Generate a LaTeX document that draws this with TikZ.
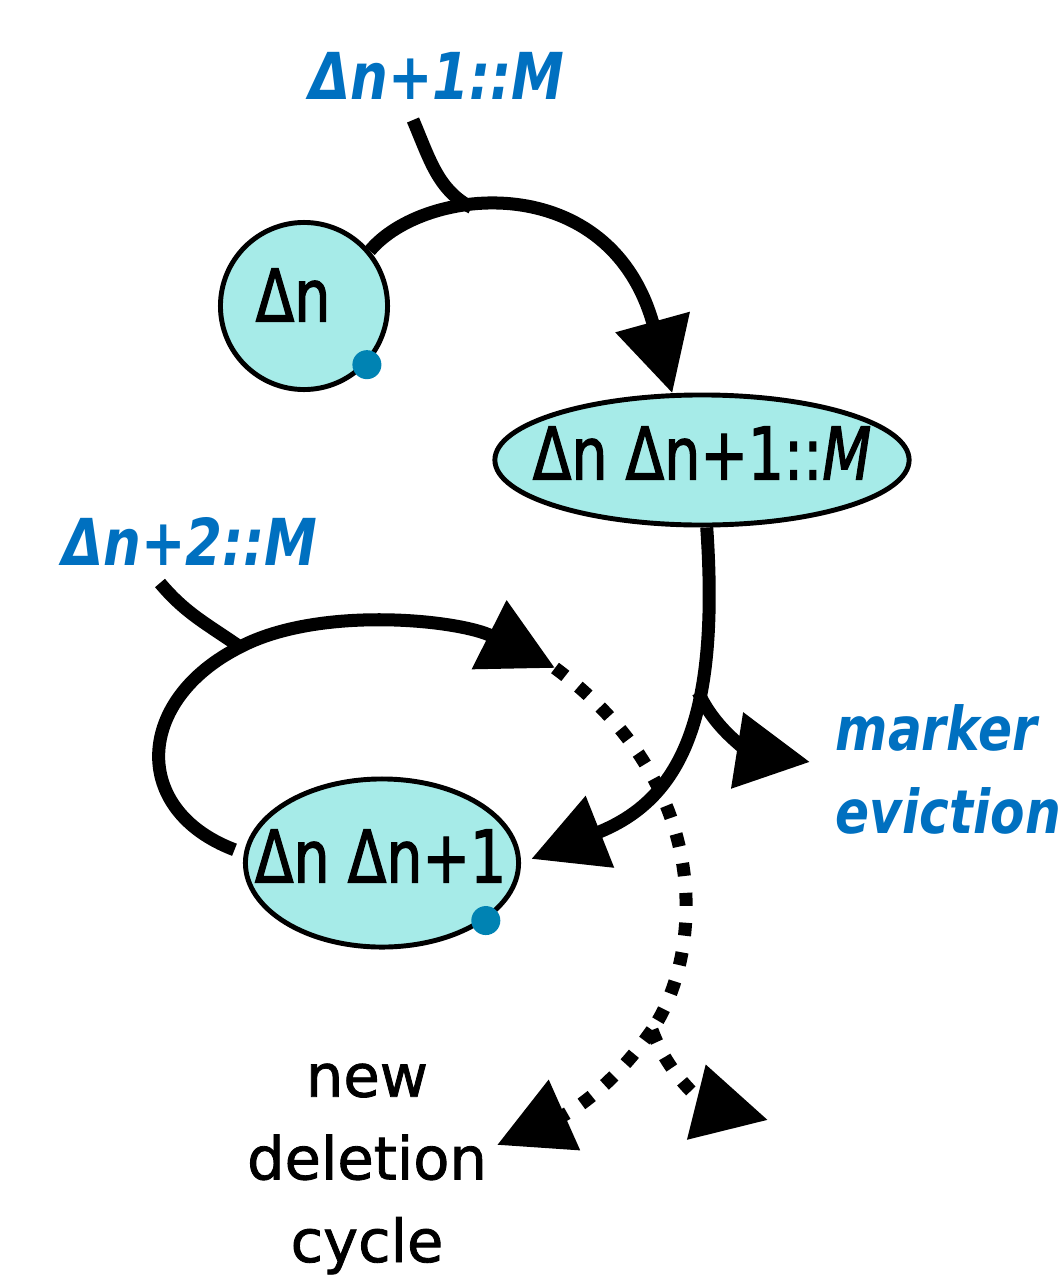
\documentclass[tikz,border=0pt]{standalone}
\usepackage{fontspec}
\setmainfont{DejaVu Sans}[FakeBold=1.4]
\newfontfamily\narrowfont{DejaVu Sans}[FakeStretch=0.78,FakeBold=1.6]
\newfontfamily\bluefont{DejaVu Sans}[FakeStretch=0.82]
\newfontfamily\evfont{DejaVu Sans}[FakeStretch=0.83]
\usepackage{tikz}
\usetikzlibrary{arrows.meta,shapes.geometric}
\definecolor{cellfill}{HTML}{A6EBE8}
\definecolor{markblue}{HTML}{0070C0}
\definecolor{dotblue}{HTML}{0083B3}

\begin{document}
\begin{tikzpicture}[x=0.01cm,y=-0.01cm,>={Triangle[length=21pt,width=21pt]},
        cellnode/.style={draw,fill=cellfill,line width=1.4pt,inner sep=0pt},
        celltext/.style={font=\narrowfont\fontsize{20.7}{24}\selectfont},
        bluelbl/.style={font=\bluefont\bfseries\itshape\fontsize{18.4}{22}\selectfont,text=markblue,inner sep=0pt},
        evtext/.style={font=\evfont\bfseries\itshape\fontsize{17.2}{23.6}\selectfont,text=markblue,inner sep=0pt,align=left},
        flow/.style={line width=3.7pt,->},
        feed/.style={line width=3.7pt},
        dotflow/.style={line width=3.7pt,dash pattern=on 3.7pt off 4.8pt},
        dotmark/.style={circle,fill=dotblue,inner sep=0pt,minimum size=0.29cm}]
        \useasboundingbox (0,0) rectangle (1057,1276);
        % sets
        \node[cellnode,circle,minimum size=1.67cm,
              label={[celltext,xshift=-0.11cm,yshift=0.11cm]center:Δn}] (dn) at (304,306) {};
        \node[cellnode,ellipse,minimum width=4.14cm,minimum height=1.30cm,
              label={[celltext,yshift=0.07cm]center:Δn Δn+1::\textit{M}}] (e1) at (702,460) {};
        \node[cellnode,ellipse,minimum width=2.73cm,minimum height=1.68cm,
              label={[celltext,xshift=-0.015cm,yshift=0.07cm]center:Δn Δn+1}] (e2) at (382,863) {};
        \node[dotmark] (dnpin) at (dn.-43) {};
        \node[dotmark] (e2pin) at (e2.-29) {};
        % labels
        \node[bluelbl,anchor=base] (lblone) at (437,100) {Δn+1::M};
        \node[bluelbl,anchor=base] (lbltwo) at (190,565) {Δn+2::M};
        \node[evtext,anchor=base west] (evlbl) at (835,833) {marker\\eviction};
        \node[font=\fontsize{16.8}{23.5}\selectfont,align=center,anchor=base] (cyclbl) at (367,1262) {new\\deletion\\cycle};
        % free ends
        \coordinate (in1) at (413,120);
        \coordinate (in2) at (160,583);
        \coordinate (m2) at (240,647);
        \coordinate (dst) at (555,668);
        \coordinate (evtip) at (810,762);
        \coordinate (split) at (652,1030);
        \coordinate (newtip) at (497,1145);
        \coordinate (oldtip) at (768,1120);
        % arrows
        \draw[flow] (dn.40) .. controls (425,185) and (610,168) .. (e1.114) coordinate[pos=0.37] (m1);
        \draw[feed] (in1) .. controls (430,160) and (438,190) .. (m1);
        \draw[flow,shorten >=0.11cm] (e1.-86) .. controls (720,720) and (680,800) .. (e2.east) coordinate[pos=0.35] (b1);
        \draw[flow] (b1) to[out=-65,in=171] (evtip);
        \draw[flow,shorten <=0.1cm] (e2.176) .. controls (130,810) and (135,700) .. (m2)
              .. controls (320,605) and (460,620) .. (dst);
        \draw[feed] (in2) to[out=-50,in=145] (m2);
        \draw[dotflow] (dst) .. controls (720,790) and (700,960) .. (split);
        \draw[dotflow,->] (split) to[out=-125,in=24] (newtip);
        \draw[dotflow,->] (split) to[out=-70,in=166] (oldtip);
\end{tikzpicture}
\end{document}
